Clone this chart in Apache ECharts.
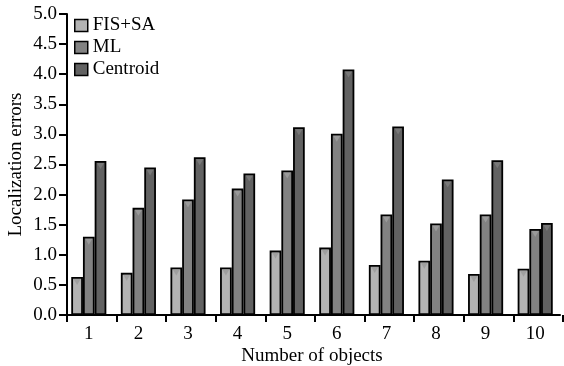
<!DOCTYPE html>
<html><head><meta charset="utf-8">
<script src="https://cdn.jsdelivr.net/npm/echarts@6/dist/echarts.min.js"></script>
<style>html,body{margin:0;padding:0;background:#fff}#c{width:564px;height:366px}</style>
</head><body><div id="c"></div>
<script>
const categories = ['1','2','3','4','5','6','7','8','9','10'];
const fisSA = [0.63,0.70,0.79,0.79,1.07,1.12,0.83,0.90,0.68,0.77];
const ml = [1.30,1.78,1.92,2.10,2.40,3.01,1.67,1.52,1.67,1.43];
const centroid = [2.56,2.45,2.62,2.35,3.12,4.08,3.13,2.25,2.57,1.53];
const seriesNames = ['FIS+SA','ML','Centroid'];
const colors = ['#b3b3b3','#828282','#626262'];
const triColors = ['#9a9a9a','#a0a0a0','#7e7e7e'];
const font = 'Liberation Serif';
const FS = 19;
const BW = 11.7;
const chart = echarts.init(document.getElementById('c'));
const allData = [fisSA, ml, centroid];
const bars = allData.map((d,i)=>({
  name:seriesNames[i], type:'bar', data:d, barWidth:BW, barGap:'0%',
  xAxisIndex:0, yAxisIndex:0, z:2,
  itemStyle:{color:colors[i], borderColor:'#000', borderWidth:1.8}
}));
const tris = allData.map((d,i)=>({
  type:'scatter', data:d, xAxisIndex:0, yAxisIndex:0, z:3, silent:true,
  symbol:'triangle', symbolRotate:180, symbolSize:[7,6],
  symbolOffset:[(i-1)*BW, 5],
  itemStyle:{color:triColors[i]}
}));
chart.setOption({
  animation:false,
  textStyle:{fontFamily:font},
  grid:[
    {left:64, right:4, top:14, bottom:51, containLabel:false, outerBoundsMode:'none'},
    {left:67, right:1, top:14, bottom:51, containLabel:false, outerBoundsMode:'none'}
  ],
  legend:{
    left:69, top:11, orient:'vertical', itemGap:3, itemWidth:13, itemHeight:12,
    icon:'rect',
    data:seriesNames,
    textStyle:{fontFamily:font, fontSize:FS, color:'#000'},
    itemStyle:{borderColor:'#000', borderWidth:1.5}
  },
  xAxis:[{
    gridIndex:0, type:'category', data:categories,
    name:'Number of objects', nameLocation:'middle', nameGap:32, nameMoveOverlap:false,
    nameTextStyle:{fontFamily:font, fontSize:FS, color:'#000'},
    axisLine:{lineStyle:{color:'#000', width:2}},
    axisTick:{show:false},
    axisLabel:{fontFamily:font, fontSize:FS, color:'#000', margin:10}
  },{
    gridIndex:1, type:'category', data:categories,
    axisLine:{show:false},
    axisTick:{show:true, length:7, lineStyle:{color:'#000', width:2}},
    axisLabel:{show:false}
  }],
  yAxis:[{
    gridIndex:0, type:'value', min:0, max:5, interval:0.5, offset:-3,
    name:'Localization errors', nameLocation:'middle', nameGap:41, nameMoveOverlap:false,
    nameTextStyle:{fontFamily:font, fontSize:FS, color:'#000'},
    axisLine:{show:true, lineStyle:{color:'#000', width:2}},
    axisTick:{show:true, length:8, lineStyle:{color:'#000', width:2}},
    splitLine:{show:false},
    axisLabel:{fontFamily:font, fontSize:FS, color:'#000', margin:10, formatter:v=>v.toFixed(1)}
  },{
    gridIndex:1, type:'value', min:0, max:5, show:false
  }],
  series:[...bars, ...tris]
});
</script></body></html>
